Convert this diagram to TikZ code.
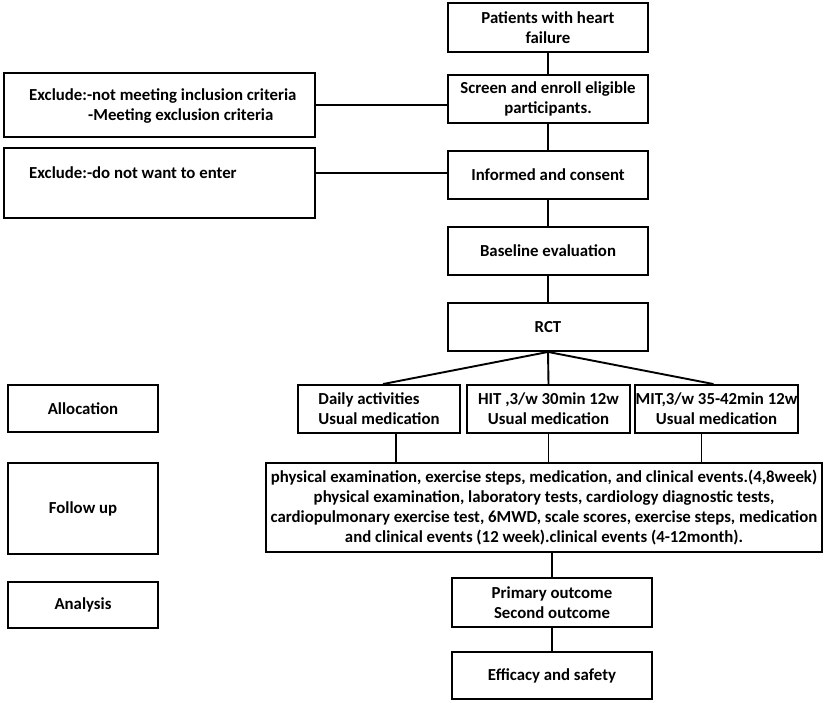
\documentclass[tikz,border=0pt]{standalone}
\usepackage{fontspec}
\setmainfont{Carlito}[BoldFont={Carlito Bold}]
\begin{document}
\begin{tikzpicture}[x=1pt,y=-1pt,
  txt/.style={font=\fontsize{16.8}{20}\selectfont\bfseries},
  box/.style={draw, line width=1.9pt, inner sep=0pt, align=center, txt},
  conn/.style={line width=1.9pt}]
\useasboundingbox (0,0) rectangle (829,703);
% main column
\node[box, minimum width=200, minimum height=49] (pat) at (548,27.5) {Patients with heart\\failure};
\node[box, minimum width=200, minimum height=48] (scr) at (548,99) {Screen and enroll eligible\\participants.};
\node[box, minimum width=200, minimum height=48] (inf) at (548,175) {Informed and consent};
\node[box, minimum width=200, minimum height=48] (base) at (548,251) {Baseline evaluation};
\node[box, minimum width=200, minimum height=48] (rct) at (548,327) {RCT};
% exclusions
\node[box, minimum width=311, minimum height=64] (ex1) at (159.5,105) {};
\node[txt, anchor=west, inner sep=0pt] (ex1a) at (29,96) {Exclude:-not meeting inclusion criteria};
\node[txt, anchor=west, inner sep=0pt] (ex1b) at (88,116) {-Meeting exclusion criteria};
\node[box, minimum width=311, minimum height=70] (ex2) at (159.5,183) {};
\node[txt, anchor=west, inner sep=0pt] (ex2a) at (29,173) {Exclude:-do not want to enter};
% arms
\node[box, minimum width=162, minimum height=48, align=left] (daily) at (379,409) {Daily activities\\Usual medication};
\node[box, minimum width=163, minimum height=48] (hit) at (548.5,409) {HIT ,3/w 30min 12w\\Usual medication};
\node[box, minimum width=163, minimum height=48] (mit) at (716.5,409) {MIT,3/w 35-42min 12w\\Usual medication};
% follow up
\node[box, minimum width=556, minimum height=89] (fu) at (544,507.5) {physical examination, exercise steps, medication, and clinical events.(4,8week)\\physical examination, laboratory tests, cardiology diagnostic tests,\\cardiopulmonary exercise test, 6MWD, scale scores, exercise steps, medication\\and clinical events (12 week).clinical events (4-12month).};
\node[box, minimum width=200, minimum height=49] (prim) at (552,602.5) {Primary outcome\\Second outcome};
\node[box, minimum width=200, minimum height=47] (eff) at (552,675.5) {Efficacy and safety};
% left labels
\node[box, minimum width=150, minimum height=47] (alloc) at (83,408.5) {Allocation};
\node[box, minimum width=150, minimum height=91] (fulab) at (83,508.5) {Follow up};
\node[box, minimum width=150, minimum height=46] (ana) at (83,605) {Analysis};
% connectors
\draw[conn] (pat) -- (scr);
\draw[conn] (scr) -- (inf);
\draw[conn] (inf) -- (base);
\draw[conn] (base) -- (rct);
\draw[conn] ([yshift=-6]scr.west) -- ([yshift=-6]scr.west -| ex1.east);
\draw[conn] ([yshift=2]inf.west) -- ([yshift=2]inf.west -| ex2.east);
\draw[conn] (rct.south) -- ([xshift=4]daily.north);
\draw[conn] (rct.south) -- (hit.north);
\draw[conn] (rct.south) -- ([xshift=-3]mit.north);
\draw[conn] ([xshift=17]daily.south) -- ([xshift=17]daily.south |- fu.north);
\draw[conn] (hit.south) -- (hit.south |- fu.north);
\draw[conn] ([xshift=-15]mit.south) -- ([xshift=-15]mit.south |- fu.north);
\draw[conn] (prim.north |- fu.south) -- (prim.north);
\draw[conn] (prim) -- (eff);
\end{tikzpicture}
\end{document}
